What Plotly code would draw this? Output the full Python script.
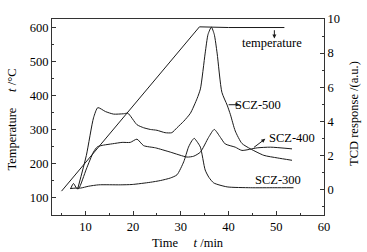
import plotly.graph_objects as go

# ---- data ----
temp_t = [5.0, 33.9, 40.0, 44.0, 46.0, 47.0, 48.0, 49.0, 51.7]
temp_v = [120, 602, 600, 600, 600, 601, 599, 600, 600]

scz300_t = [6.8, 8.0, 9.0, 10.7, 12.8, 17.3, 19.8, 23.6, 25.7, 27.8, 29.2, 30.6, 31.6, 32.3, 32.8, 33.4, 34.1, 35.1, 35.9, 36.9, 39.7, 44.6, 49.7, 53.6]
scz300_v = [0.05, 0.08, 0.08, 0.19, 0.27, 0.27, 0.29, 0.42, 0.52, 0.67, 0.86, 1.62, 2.48, 2.85, 3.0, 2.8, 2.48, 1.14, 0.7, 0.38, 0.15, 0.1, 0.1, 0.1]

scz400_t = [6.9, 7.5, 8.2, 8.6, 10.2, 11.7, 12.5, 13.8, 15.7, 17.7, 19.4, 20.8, 22.2, 24.7, 27.8, 31.3, 32.7, 34.1, 35.8, 37.0, 38.3, 39.3, 41.4, 42.8, 46.0, 48.8, 53.3]
scz400_v = [0.05, 0.35, 0.05, 0.05, 1.2, 2.2, 2.5, 2.6, 2.68, 2.76, 2.76, 2.95, 2.57, 2.44, 2.19, 1.9, 1.95, 2.19, 3.05, 3.52, 3.05, 2.67, 2.48, 2.29, 2.44, 2.48, 2.38]

scz500_t = [8.4, 10.2, 11.7, 12.6, 14.2, 15.9, 18.0, 18.9, 20.8, 22.2, 23.6, 25.0, 26.7, 28.1, 29.2, 30.6, 32.0, 33.4, 34.1, 35.1, 35.7, 36.4, 37.0, 37.6, 38.6, 39.7, 40.4, 41.4, 42.8, 44.6, 47.4, 50.2, 53.3]
scz500_v = [0.05, 2.0, 4.2, 4.8, 4.57, 4.42, 4.44, 4.47, 3.8, 3.62, 3.52, 3.47, 3.33, 3.33, 3.62, 4.0, 4.47, 5.33, 5.9, 8.0, 9.1, 9.52, 9.1, 8.0, 5.7, 4.95, 4.38, 3.43, 2.7, 2.38, 2.0, 1.85, 1.71]

x_ticks = [10, 20, 30, 40, 50, 60]
left_ticks = [100, 200, 300, 400, 500, 600]
right_ticks = [0, 2, 4, 6, 8, 10]

FONT = "Liberation Serif"
LC = "#1a1a1a"

fig = go.Figure()
fig.add_trace(go.Scatter(x=temp_t, y=temp_v, mode="lines", yaxis="y",
                         line=dict(color=LC, width=1), showlegend=False))
for tt, vv in [(scz300_t, scz300_v), (scz400_t, scz400_v), (scz500_t, scz500_v)]:
    fig.add_trace(go.Scatter(x=tt, y=vv, mode="lines", yaxis="y2",
                             line=dict(color=LC, width=1, shape="spline", smoothing=0.6),
                             showlegend=False))

axcommon = dict(showgrid=False, zeroline=False, showline=True, linecolor="#333", linewidth=1,
                ticks="inside", ticklen=4, tickcolor="#333",
                tickfont=dict(family=FONT, size=12.5, color="black"))

fig.update_layout(
    width=367, height=252,
    margin=dict(l=52, r=43, t=16, b=37),
    paper_bgcolor="white", plot_bgcolor="white",
    font=dict(family=FONT, size=12.5, color="black"),
    xaxis=dict(range=[3, 60], tickvals=x_ticks, mirror=True,
               minor=dict(dtick=5, ticks="inside", ticklen=2, tickcolor="#333"), **axcommon),
    yaxis=dict(range=[50, 625], tickvals=left_ticks,
               minor=dict(dtick=50, ticks="inside", ticklen=2, tickcolor="#333"), **axcommon),
    yaxis2=dict(range=[-1.5, 10], tickvals=right_ticks, overlaying="y", side="right",
                minor=dict(dtick=1, ticks="inside", ticklen=2, tickcolor="#333"), **axcommon),
)

ann = []
# axis titles
ann.append(dict(text="Temperature\u00a0\u00a0\u00a0\u00a0\u00a0<i>t</i> /°C", xref="paper", yref="paper",
                x=-0.147, y=0.487, textangle=-90, showarrow=False, xanchor="center", yanchor="middle"))
ann.append(dict(text="TCD response /(a.u.)", xref="paper", yref="paper",
                x=1.112, y=0.518, textangle=-90, showarrow=False, xanchor="center", yanchor="middle"))
ann.append(dict(text="Time\u00a0\u00a0\u00a0\u00a0\u00a0<i>t</i> /min", xref="paper", yref="paper",
                x=0.499, y=-0.141, showarrow=False, xanchor="center", yanchor="middle"))
# curve labels
ann.append(dict(text="SCZ-500", x=46.2, y=4.97, xref="x", yref="y2", showarrow=False))
ann.append(dict(text="SCZ-400", x=53.2, y=3.03, xref="x", yref="y2", showarrow=False))
ann.append(dict(text="SCZ-300", x=50.4, y=0.57, xref="x", yref="y2", showarrow=False))
ann.append(dict(text="temperature", x=49.0, y=8.57, xref="x", yref="y2", showarrow=False))
# arrows
arrow = dict(text="", showarrow=True, arrowhead=2, arrowsize=0.8, arrowwidth=1, arrowcolor=LC,
             xref="x", yref="y2", axref="x", ayref="y2", standoff=0, startstandoff=0)
ann.append(dict(x=42.3, y=4.97, ax=39.7, ay=4.97, **arrow))
ann.append(dict(x=47.7, y=2.97, ax=45.0, ay=2.4, **arrow))
ann.append(dict(x=49.6, y=8.86, ax=49.6, ay=9.43, **arrow))
fig.update_layout(annotations=ann)

fig.write_html("out.html", config={"displayModeBar": False},
               post_script="document.body.style.margin='0';document.body.style.overflow='hidden';")
